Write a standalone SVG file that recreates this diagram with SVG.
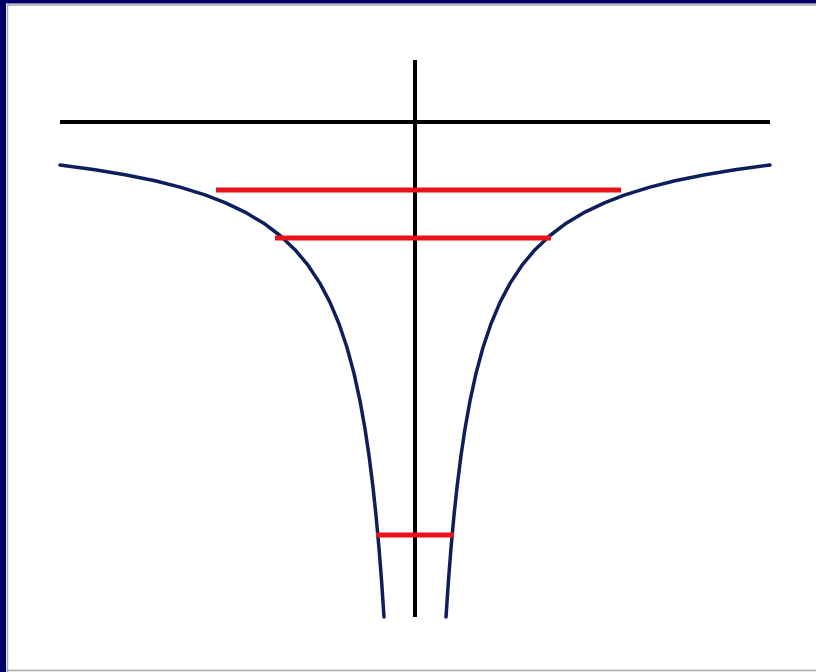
<svg xmlns="http://www.w3.org/2000/svg" width="816" height="672" viewBox="0 0 816 672">
<style>
.axis{stroke:#000;stroke-width:4;fill:none}
.curve{stroke:#0c1f5a;stroke-width:3.5;fill:none;stroke-linejoin:round;stroke-linecap:round}
.chord{stroke:#e8121a;stroke-width:5;fill:none}
</style>
<rect x="0" y="0" width="816" height="672" fill="#ffffff"/>
<rect x="0" y="0" width="816" height="3.5" fill="#000066"/>
<rect x="0" y="0" width="6" height="672" fill="#000066"/>
<path d="M7.5,672 V5 H816" stroke="#a8a8a8" stroke-width="1.5" fill="none"/>
<line x1="6" y1="670.5" x2="816" y2="670.5" stroke="#a8a8a8" stroke-width="1.5"/>
<g id="axes">
<line class="axis" x1="60" y1="122" x2="770" y2="122"/>
<line class="axis" x1="415" y1="60" x2="415" y2="617"/>
</g>
<g id="curves">
<polyline class="curve" points="60,165 95,169.7 125,174.7 155,180.8 180,187.1 205,194.9 225,202.6 245,212.1 265,224.1 280,235.5 295,249.7 308,265.2 320,283.4 330,302.4 339,323.8 347,347.5 354,373.4 360,400.9 365,428.8 369,455.5 373,487.3 376,515.4 379,548.2 381.5,580 384,617"/>
<polyline class="curve" points="770,165 735,169.7 705,174.7 675,180.8 650,187.1 625,194.9 605,202.6 585,212.1 565,224.1 550,235.5 535,249.7 522,265.2 510,283.4 500,302.4 491,323.8 483,347.5 476,373.4 470,400.9 465,428.8 461,455.5 457,487.3 454,515.4 451,548.2 448.5,580 446,617"/>
</g>
<g id="chords">
<line class="chord" x1="216" y1="190" x2="621" y2="190"/>
<line class="chord" x1="275" y1="238" x2="551" y2="238"/>
<line class="chord" x1="376" y1="535" x2="454" y2="535"/>
</g>
</svg>
